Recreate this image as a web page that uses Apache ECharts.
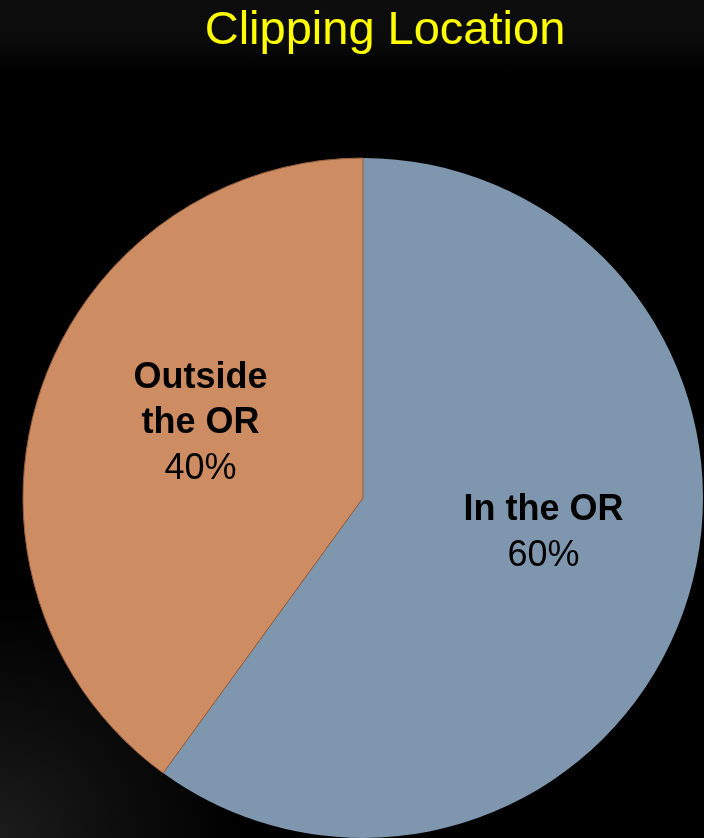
<!DOCTYPE html>
<html>
<head>
<meta charset="utf-8">
<script src="https://cdn.jsdelivr.net/npm/echarts@6/dist/echarts.min.js"></script>
<style>
html,body{margin:0;padding:0;width:704px;height:838px;overflow:hidden;
background:
 radial-gradient(circle at 0% 100%, #1c1c1c 0px, #0d0d0d 120px, rgba(0,0,0,0) 240px),
 linear-gradient(to bottom, #0d0d0d 0px, #0b0b0b 40px, #000 72px, #000 100%);}
#chart{width:704px;height:838px;}
</style>
</head>
<body>
<div id="chart"></div>
<script>
const titleText = 'Clipping Location';
const categories = ['In the OR', 'Outside\nthe OR'];
const values = [60, 40];
const colors = ['#7F97AE', '#CD8C61'];

const chart = echarts.init(document.getElementById('chart'), null, {renderer: 'canvas'});
const labelFont = "'Liberation Sans Narrow','Arial Narrow','Liberation Sans',Arial,sans-serif";
const offsets = [[16, -18], [2, -20]];
const borders = [{borderWidth: 0}, {borderColor: '#95603E', borderWidth: 1}];

chart.setOption({
  backgroundColor: 'transparent',
  animation: false,
  title: {
    text: titleText,
    left: 380, top: 3,
    textAlign: 'center',
    textStyle: {color: '#FFFF00', fontSize: 47, fontWeight: 'normal',
      fontFamily: "'Liberation Sans',Arial,sans-serif"}
  },
  series: [{
    type: 'pie',
    center: [363, 498],
    radius: [0, 340],
    startAngle: 90,
    clockwise: true,
    avoidLabelOverlap: false,
    label: {
      show: true,
      position: 'inside',
      formatter: function (p) {
        const lines = p.name.split('\n').map(s => '{b|' + s + '}');
        return lines.join('\n') + '\n{p|' + p.value + '%}';
      },
      rich: {
        b: {fontFamily: labelFont, fontWeight: 'bold', fontSize: 36, color: '#000', lineHeight: 45},
        p: {fontFamily: labelFont, fontWeight: 'normal', fontSize: 36, color: '#000', lineHeight: 47}
      }
    },
    labelLine: {show: false},
    emphasis: {disabled: true},
    data: categories.map((c, i) => ({
      name: c, value: values[i],
      itemStyle: Object.assign({color: colors[i]}, borders[i]),
      label: {offset: offsets[i]}
    }))
  }]
});
</script>
</body>
</html>
